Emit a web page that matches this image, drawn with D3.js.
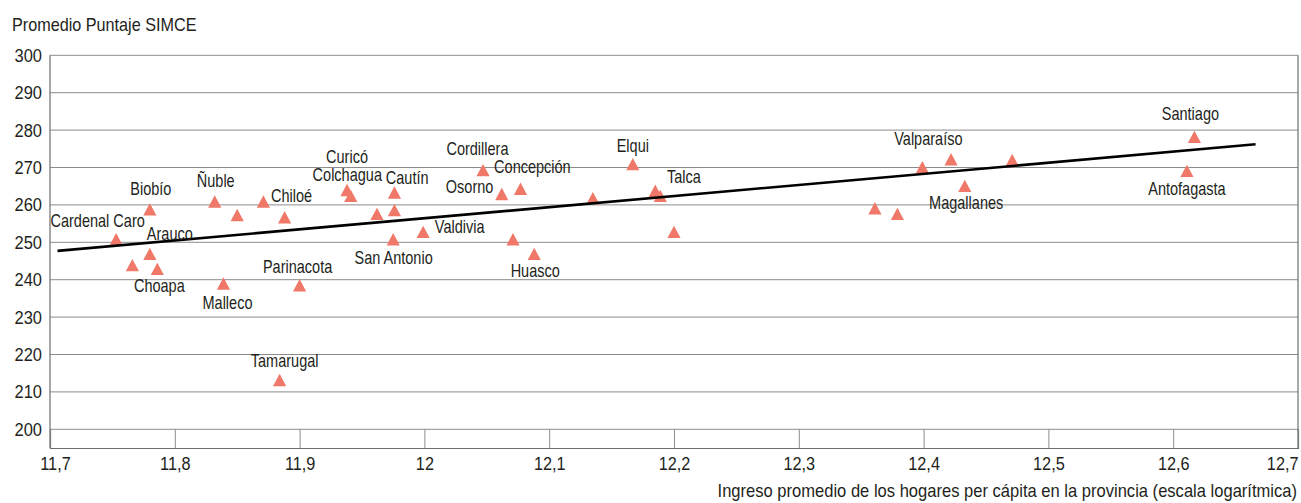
<!DOCTYPE html>
<html>
<head>
<meta charset="utf-8">
<script src="https://cdn.jsdelivr.net/npm/d3@7"></script>
<style>
  body { margin: 0; background: #fff; }
  text { font-family: "Liberation Sans", Arial, sans-serif; fill: #231f20; }
</style>
</head>
<body>
<div id="chart"></div>
<script>
// provinces, log of household income per capita, SIMCE average score
const provinces = ['Cardenal Caro', '', 'Biobío', 'Arauco', 'Choapa', 'Ñuble', 'Malleco', '', 'Chiloé', '',
  'Tamarugal', 'Parinacota', 'Curicó', 'Colchagua', '', 'Cautín', '', 'San Antonio', 'Valdivia', 'Cordillera',
  'Osorno', '', 'Concepción', 'Huasco', '', 'Elqui', 'Talca', '', '', '',
  '', 'Valparaíso', '', 'Magallanes', '', 'Antofagasta', 'Santiago'];
const incomeLog = [11.753, 11.766, 11.780, 11.780, 11.786, 11.832, 11.839, 11.850, 11.871, 11.888,
  11.884, 11.900, 11.938, 11.941, 11.962, 11.976, 11.976, 11.975, 11.999, 12.047,
  12.062, 12.071, 12.077, 12.088, 12.135, 12.167, 12.185, 12.189, 12.200, 12.361,
  12.379, 12.399, 12.422, 12.433, 12.471, 12.611, 12.617];
const simce = [250.8, 243.9, 258.8, 246.9, 242.9, 260.9, 239.0, 257.3, 260.9, 256.7,
  213.2, 238.5, 264.0, 262.4, 257.6, 263.3, 258.6, 250.8, 252.8, 269.3,
  262.9, 250.8, 264.3, 246.9, 261.8, 270.9, 263.8, 262.4, 252.8, 259.1,
  257.6, 270.1, 272.2, 265.1, 272.0, 269.1, 278.2];

// fitted line, read at both ends
const trendX = [11.706, 12.666];
const trendY = [247.7, 276.2];

const xTicks = [11.7, 11.8, 11.9, 12, 12.1, 12.2, 12.3, 12.4, 12.5, 12.6, 12.7];
const xTickLabels = ['11,7', '11,8', '11,9', '12', '12,1', '12,2', '12,3', '12,4', '12,5', '12,6', '12,7'];
const yTicks = [200, 210, 220, 230, 240, 250, 260, 270, 280, 290, 300];

// label placement: [anchor, dx, dy] from the marker centre
const labelLayout = {
  'Cardenal Caro': ['middle', -18.5, -12.6],
  'Biobío': ['middle', 1, -14],
  'Arauco': ['middle', 20, -14],
  'Choapa': ['middle', 2, 23],
  'Ñuble': ['middle', 1, -14.4],
  'Malleco': ['middle', 4, 26],
  'Chiloé': ['start', 7.5, 0],
  'Tamarugal': ['middle', 5, -12.7],
  'Parinacota': ['middle', -2, -12.6],
  'Curicó': ['middle', 0, -27],
  'Colchagua': ['middle', -3.5, -15.3],
  'Cautín': ['middle', 12.7, -8.4],
  'San Antonio': ['middle', 0.4, 24.7],
  'Valdivia': ['start', 11.7, 1.6],
  'Cordillera': ['middle', -5.6, -15],
  'Osorno': ['end', -8.4, -0.7],
  'Concepción': ['start', -26.4, -15.4],
  'Huasco': ['middle', 1, 23.3],
  'Elqui': ['middle', 0, -12.6],
  'Talca': ['start', 11.7, -8],
  'Valparaíso': ['middle', 6, -22.3],
  'Magallanes': ['middle', 1.4, 23.3],
  'Antofagasta': ['middle', 0, 24.3],
  'Santiago': ['middle', -4, -16.7],
};

const data = provinces.map((p, i) => ({ name: p, x: incomeLog[i], y: simce[i] }));

const config = {
  width: 1301,
  height: 503,
  left: 50,
  right: 1298,
  top: 55.3,
  bottom: 448,
};

// the original uses a condensed face; squeeze the regular one horizontally
function condense(sel, sx) {
  sel.each(function () {
    const t = d3.select(this);
    const x = +t.attr('x') || 0;
    const y = +t.attr('y') || 0;
    t.attr('x', null).attr('y', null)
      .attr('transform', `translate(${x},${y}) scale(${sx},1)`);
  });
}

const svg = d3.select('#chart').append('svg')
  .attr('width', config.width)
  .attr('height', config.height);

const xScale = d3.scaleLinear().domain([11.7, 12.7]).range([config.left, config.right]);
const yScale = d3.scaleLinear().domain([195, 300]).range([config.bottom, config.top]);

// horizontal grid
svg.append('g').selectAll('line')
  .data(yTicks)
  .join('line')
  .attr('x1', config.left)
  .attr('x2', config.right)
  .attr('y1', (d) => yScale(d))
  .attr('y2', (d) => yScale(d))
  .attr('stroke', '#8c8c8c')
  .attr('stroke-width', 1);

// x axis with ticks pointing up into the plot
const xAxis = d3.axisBottom(xScale)
  .tickValues(xTicks)
  .tickSize(-(config.bottom - yScale(200)))
  .tickFormat((d, i) => xTickLabels[i]);

const xAxisG = svg.append('g')
  .attr('transform', `translate(0,${config.bottom})`)
  .call(xAxis);
xAxisG.select('.domain').attr('stroke', '#6d6d6d').attr('stroke-width', 1.2);
xAxisG.selectAll('.tick line').attr('stroke', '#8c8c8c');
xAxisG.selectAll('.tick text')
  .attr('x', (d, i) => (i === 0 ? 5 : 0))
  .attr('y', 22)
  .attr('dy', 0)
  .attr('text-anchor', (d, i) => (i === xTicks.length - 1 ? 'end' : 'middle'))
  .attr('font-size', '18.7px')
  .attr('font-family', null)
  .attr('fill', '#231f20')
  .call(condense, 0.87);

// y axis
const yAxis = d3.axisLeft(yScale)
  .tickValues(yTicks)
  .tickSize(0)
  .tickPadding(8)
  .tickFormat(d3.format('d'));
const yAxisG = svg.append('g')
  .attr('transform', `translate(${config.left},0)`)
  .call(yAxis);
yAxisG.select('.domain').attr('stroke', '#6d6d6d').attr('stroke-width', 1.2)
  .attr('d', `M0,${config.bottom}V${config.top}`);
yAxisG.selectAll('.tick text')
  .attr('font-size', '18.7px')
  .attr('font-family', null)
  .attr('fill', '#231f20')
  .call(condense, 0.88);

// right border
svg.append('line')
  .attr('x1', config.right).attr('x2', config.right)
  .attr('y1', config.top).attr('y2', config.bottom)
  .attr('stroke', '#6d6d6d')
  .attr('stroke-width', 1.2);

// markers
const triangle = 'M0,-6.2L6.6,6.2L-6.6,6.2Z';
svg.append('g').selectAll('path')
  .data(data)
  .join('path')
  .attr('d', triangle)
  .attr('transform', (d) => `translate(${xScale(d.x)},${yScale(d.y)})`)
  .attr('fill', '#ef7868');

// trend line
svg.append('line')
  .attr('x1', xScale(trendX[0]))
  .attr('y1', yScale(trendY[0]))
  .attr('x2', xScale(trendX[1]))
  .attr('y2', yScale(trendY[1]))
  .attr('stroke', '#000')
  .attr('stroke-width', 2.6);

// province labels
svg.append('g').selectAll('text')
  .data(data.filter((d) => d.name !== ''))
  .join('text')
  .attr('x', (d) => xScale(d.x) + labelLayout[d.name][1])
  .attr('y', (d) => yScale(d.y) + labelLayout[d.name][2])
  .attr('text-anchor', (d) => labelLayout[d.name][0])
  .attr('font-size', '17.7px')
  .text((d) => d.name)
  .call(condense, 0.82);

// titles
svg.append('text')
  .attr('x', 12)
  .attr('y', 31)
  .attr('font-size', '18px')
  .text('Promedio Puntaje SIMCE')
  .call(condense, 0.9);

svg.append('text')
  .attr('x', 1297)
  .attr('y', 497)
  .attr('text-anchor', 'end')
  .attr('font-size', '18px')
  .text('Ingreso promedio de los hogares per cápita en la provincia (escala logarítmica)')
  .call(condense, 0.92);
</script>
</body>
</html>
